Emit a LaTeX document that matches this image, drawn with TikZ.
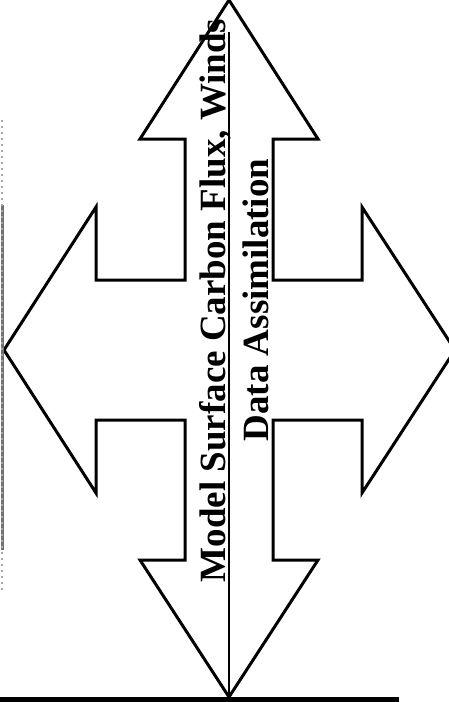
\documentclass[tikz,border=0pt]{standalone}
\usepackage{fontspec}
\setmainfont{Liberation Serif}
\tikzset{
  crossarrow/.style={line width=1.5pt, line join=miter},
  sidetext/.style={rotate=90, anchor=base, inner sep=0pt,
    font=\bfseries\fontsize{18.5}{20}\selectfont},
  scanmark/.style={line width=1.5pt, black!55},
}
\begin{document}
\begin{tikzpicture}[x=0.5pt,y=-0.5pt]
\useasboundingbox (0,0) rectangle (449,702);
\clip (0,0) rectangle (449,702);
\draw[crossarrow]
(229,0)--(318,139)--(273,139)--(273,280)--(362,280)--(362,207)
--(455,350)--(362,493)--(362,420)--(273,420)--(273,560)--(318,560)
--(229,697)--(140,560)--(185,560)--(185,420)--(96,420)--(96,493)
--(4,350)--(96,207)--(96,280)--(185,280)--(185,139)--(140,139)--cycle;
\coordinate (ruletop) at (229,32);
\coordinate (ruleend) at (229,697);
\draw[line width=1pt] (ruletop)--(ruleend);
\node[sidetext] (model) at (225,300.5) {Model Surface Carbon Flux, Winds};
\node[sidetext] (assim) at (268,300) {Data Assimilation};
\coordinate (barleft) at (0,699.5);
\coordinate (barright) at (399,699.5);
\draw[line width=2.5pt] (barleft)--(barright);
\draw[scanmark] (2,205)--(2,550);
\draw[black!35,dotted,line width=1pt] (2,120)--(2,590);
\end{tikzpicture}
\end{document}
